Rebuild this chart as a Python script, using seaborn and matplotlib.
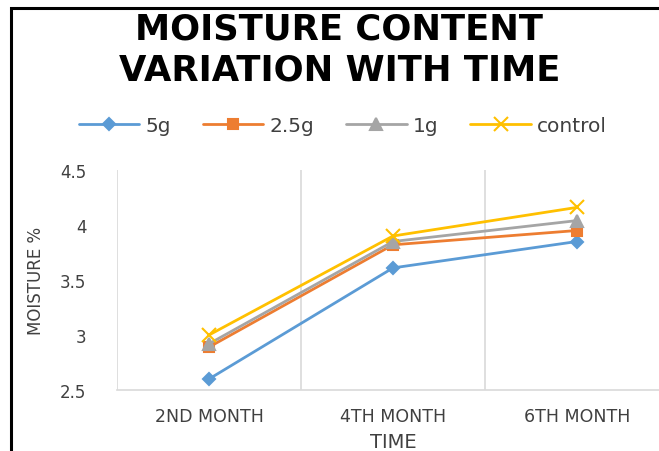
import pandas as pd
import matplotlib.pyplot as plt
import seaborn as sns
from matplotlib.patches import Rectangle

# Data
months = ["2ND MONTH", "4TH MONTH", "6TH MONTH"]
treatments = ["5g", "2.5g", "1g", "control"]
moist_5g = [2.60, 3.61, 3.85]
moist_2_5g = [2.89, 3.82, 3.95]
moist_1g = [2.92, 3.85, 4.04]
moist_control = [3.00, 3.90, 4.16]

colors = ["#5B9BD5", "#ED7D31", "#A5A5A5", "#FFC000"]
markers = ["D", "s", "^", "x"]
msizes = [6.5, 7, 8, 10]

sns.set_style("white")
plt.rcParams['font.family'] = ['DejaVu Sans']

fig = plt.figure(figsize=(6.59, 4.52), dpi=100)
ax = fig.add_axes([117 / 659, 1 - 391 / 452, 552 / 659, 220 / 452])

series = [moist_5g, moist_2_5g, moist_1g, moist_control]
for name, vals, c, mk, ms in zip(treatments, series, colors, markers, msizes):
    d = pd.DataFrame({"month": months, "moisture": vals})
    sns.lineplot(data=d, x="month", y="moisture", color=c, marker=mk,
                 markersize=ms, markeredgecolor=c, markerfacecolor=c,
                 markeredgewidth=1.5, linewidth=2.0, sort=False,
                 label=name, ax=ax)

ax.set_xlim(-0.5, 2.5)
ax.set_ylim(2.5, 4.5)
ax.set_yticks([2.5, 3, 3.5, 4, 4.5])
ax.set_yticklabels(["2.5", "3", "3.5", "4", "4.5"])
ax.set_xticks(range(len(months)))
ax.set_xticklabels(months)
ax.tick_params(axis="y", length=0, pad=22, labelsize=12, labelcolor="#404040")
ax.tick_params(axis="x", length=0, pad=12, labelsize=12.5, labelcolor="#404040")

# vertical separators between categories
for xv in [-0.5, 0.5, 1.5, 2.5]:
    ax.axvline(xv, color="#D9D9D9", lw=1.2, zorder=0)
for side in ["top", "right", "left"]:
    ax.spines[side].set_visible(False)
ax.spines["bottom"].set_color("#D9D9D9")
ax.spines["bottom"].set_linewidth(1.2)

ax.set_ylabel("MOISTURE %", fontsize=12, color="#404040")
ax.yaxis.set_label_coords(-0.13, 0.5)
ax.set_xlabel("TIME", fontsize=14, color="#404040")
ax.xaxis.set_label_coords(0.5, -0.19)

handles, labels = ax.get_legend_handles_labels()
ax.get_legend().remove()
fig.legend(handles, labels, loc="center", bbox_to_anchor=(0.52, 1 - 127 / 452),
           ncol=4, frameon=False, fontsize=14.5, handlelength=3.0,
           handletextpad=0.3, columnspacing=1.6, labelcolor="#404040")

fig.text(0.515, 1 - 50 / 452, "MOISTURE CONTENT\nVARIATION WITH TIME",
         ha="center", va="center", fontsize=25.5, fontweight="bold",
         linespacing=1.25, color="black")

# outer border (left and top visible)
fig.add_artist(Rectangle((11 / 659, -0.1), 1.2, 1 - 9 / 452 + 0.1,
                         transform=fig.transFigure, fill=False, lw=2.2,
                         ec="black", clip_on=False))

plt.savefig("out.png", dpi=100)
